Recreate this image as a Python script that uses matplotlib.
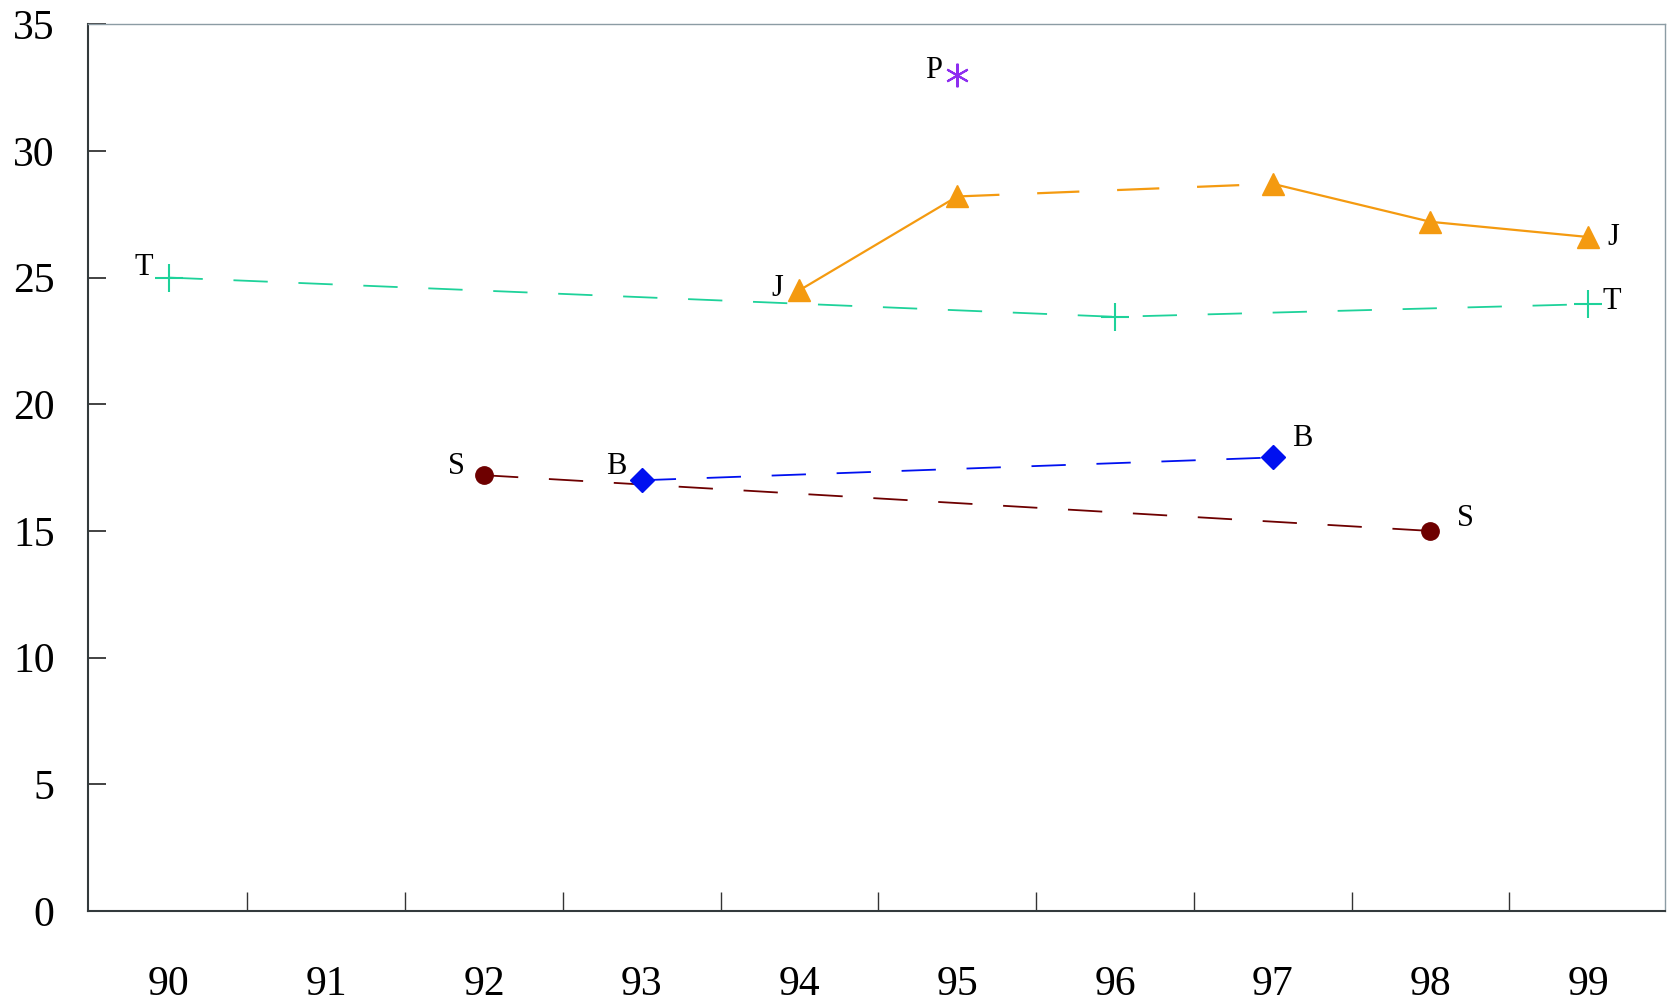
import matplotlib.pyplot as plt

plt.rcParams['font.family'] = ['Liberation Serif', 'DejaVu Serif']

# data
T_x = [90, 96, 99]
T_y = [25.0, 23.45, 23.95]
J_x = [94, 95, 97, 98, 99]
J_y = [24.5, 28.2, 28.7, 27.2, 26.6]
S_x = [92, 98]
S_y = [17.2, 15.0]
B_x = [93, 97]
B_y = [17.0, 17.9]
P_x = [95]
P_y = [33.0]
years = [90, 91, 92, 93, 94, 95, 96, 97, 98, 99]
yticks = [0, 5, 10, 15, 20, 25, 30, 35]

cT = '#1ed29a'
cJ = '#f49a10'
cS = '#6e0000'
cB = '#0010f0'
cP = '#8e2ef0'

fig = plt.figure(figsize=(16.68, 10.07), dpi=100)
ax = fig.add_axes([0.0528, 0.0953, 0.9457, 0.8807])

dash = (0, (19, 17))

ax.plot(T_x, T_y, color=cT, lw=1.3, linestyle=dash, marker='+', ms=20, mew=1.5)
# J: solid, dashed, solid pieces
ax.plot(J_x[0:2], J_y[0:2], color=cJ, lw=1.6)
ax.plot(J_x[1:3], J_y[1:3], color=cJ, lw=1.6, linestyle=dash)
ax.plot(J_x[2:], J_y[2:], color=cJ, lw=1.6)
ax.plot(J_x, J_y, color=cJ, lw=0, marker='^', ms=16)
ax.plot(S_x, S_y, color=cS, lw=1.3, linestyle=dash, marker='o', ms=12.5)
ax.plot(B_x, B_y, color=cB, lw=1.3, linestyle=dash, marker='D', ms=12.5)
ax.plot(P_x, P_y, color=cP, lw=0, marker=(6, 2, 0), ms=17, mew=1.5)

def lab(txt, x, y, dx, dy):
    ax.annotate(txt, (x, y), xytext=(dx, dy), textcoords='offset points',
                ha='center', va='center', fontsize=22)

lab('T', T_x[0], T_y[0], -18, 7)
lab('T', T_x[-1], T_y[-1], 17, 2)
lab('J', J_x[0], J_y[0], -16, 1)
lab('J', J_x[-1], J_y[-1], 18, 0)
lab('S', S_x[0], S_y[0], -20, 6)
lab('S', S_x[-1], S_y[-1], 25, 9)
lab('B', B_x[0], B_y[0], -18, 10)
lab('B', B_x[-1], B_y[-1], 21, 14)
lab('P', P_x[0], P_y[0], -17, 3)

ax.set_xlim(89.49, 99.49)
ax.set_ylim(0, 35)

# ticks between the years, labels on the years
ax.set_xticks([y + 0.5 for y in years[:-1]])
ax.set_xticklabels([])
ax.set_xticks(years, minor=True)
ax.set_xticklabels([str(y) for y in years], minor=True)
ax.tick_params(axis='x', which='major', direction='in', length=14, width=1, color='#333333')
ax.tick_params(axis='x', which='minor', length=0, pad=39, labelsize=30)

ax.set_yticks(yticks)
ax.set_yticklabels([str(v) for v in yticks])
ax.tick_params(axis='y', direction='in', length=13, width=1.2, color='#222222', pad=24, labelsize=30)

for s in ['left', 'bottom']:
    ax.spines[s].set_color('#333a3c')
    ax.spines[s].set_linewidth(1.5)
for s in ['top', 'right']:
    ax.spines[s].set_color('#8c9ca4')
    ax.spines[s].set_linewidth(1.0)

fig.savefig('out.png', dpi=100)
plt.close()
